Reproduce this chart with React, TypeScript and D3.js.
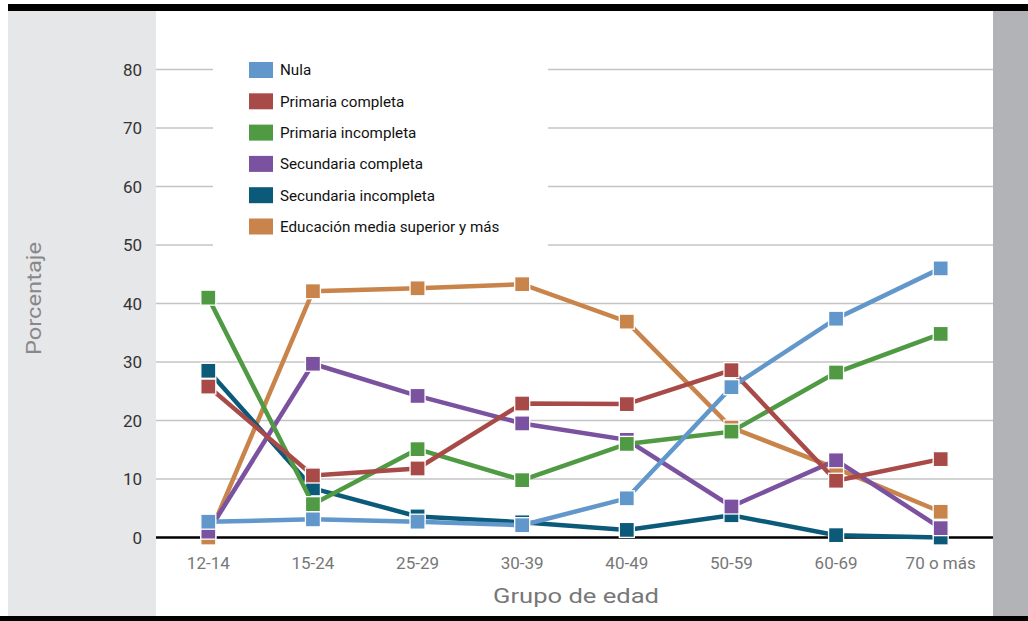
import React from "react";
import * as d3 from "d3";

const categories = ["12-14", "15-24", "25-29", "30-39", "40-49", "50-59", "60-69", "70 o más"];
const yTicks = [0, 10, 20, 30, 40, 50, 60, 70, 80];

const seriesNames = [
  "Nula",
  "Primaria completa",
  "Primaria incompleta",
  "Secundaria completa",
  "Secundaria incompleta",
  "Educación media superior y más",
];
const seriesColors = ["#6197cb", "#a84a48", "#4f9a43", "#7a52a0", "#0b5a7a", "#c8844a"];

const nula = [2.7, 3.1, 2.7, 2.1, 6.7, 25.7, 37.4, 46.0];
const primariaCompleta = [25.8, 10.6, 11.8, 22.9, 22.8, 28.6, 9.7, 13.4];
const primariaIncompleta = [41.0, 5.7, 15.1, 9.8, 16.0, 18.1, 28.2, 34.8];
const secundariaCompleta = [1.0, 29.7, 24.2, 19.5, 16.7, 5.3, 13.2, 1.6];
const secundariaIncompleta = [28.5, 8.4, 3.6, 2.6, 1.3, 3.8, 0.4, 0.0];
const educacionMedia = [0.0, 42.1, 42.6, 43.3, 36.9, 18.8, 11.8, 4.4];

const seriesValues = [nula, primariaCompleta, primariaIncompleta, secundariaCompleta, secundariaIncompleta, educacionMedia];
const drawOrder = [5, 4, 3, 2, 1, 0];

const FONT = "Roboto, 'Noto Sans', sans-serif";

export default function App() {
  const W = 1028;
  const H = 621;
  const plotL = 156;
  const plotR = 993;
  const x = d3.scaleBand<string>().domain(categories).range([plotL, plotR]);
  const cx = (c: string) => (x(c) as number) + x.bandwidth() / 2;
  const y = d3.scaleLinear().domain([0, 80]).range([537.5, 69.5]);
  const line = d3
    .line<number>()
    .x((_, i) => cx(categories[i]))
    .y((d) => y(d));
  const ms = 15;

  return (
    <svg width={W} height={H} style={{ position: "absolute", left: 0, top: 0 }} fontFamily={FONT}>
      <rect x={0} y={0} width={W} height={H} fill="#fff" />
      <rect x={8} y={11} width={plotL - 8} height={605} fill="#e6e7e9" />
      <rect x={plotR} y={11} width={W - plotR} height={605} fill="#b1b3b6" />
      <rect x={8} y={4} width={W - 8} height={7} fill="#000" />
      <rect x={0} y={616} width={W} height={5} fill="#000" />

      {yTicks.filter((t) => t > 0).map((t) => (
        <line key={t} x1={plotL} x2={plotR} y1={y(t)} y2={y(t)} stroke="#c4c4c4" strokeWidth={1.6} />
      ))}
      {yTicks.map((t) => (
        <text key={t} x={142} y={y(t)} dy="0.36em" textAnchor="end" fontSize={17} fill="#333">
          {t}
        </text>
      ))}

      <rect x={213} y={48} width={335} height={202} fill="#fff" />
      {seriesNames.map((n, i) => {
        const yy = 70 + i * 31.3;
        return (
          <g key={n}>
            <rect x={249} y={yy - 8} width={24} height={16} fill={seriesColors[i]} />
            <text x={280} y={yy} dy="0.36em" fontSize={15.2} fill="#111">
              {n}
            </text>
          </g>
        );
      })}

      {categories.map((c) => (
        <text key={c} x={cx(c)} y={569} textAnchor="middle" fontSize={17} fill="#777">
          {c}
        </text>
      ))}
      <text
        x={576}
        y={603}
        textAnchor="middle"
        fontSize={21}
        fill="#777"
        textLength={166}
        lengthAdjust="spacingAndGlyphs"
      >
        Grupo de edad
      </text>
      <text
        transform={`translate(41,298.5) rotate(-90)`}
        textAnchor="middle"
        fontSize={20}
        fill="#888"
        textLength={113}
        lengthAdjust="spacingAndGlyphs"
      >
        Porcentaje
      </text>

      <line x1={plotL} x2={plotR} y1={y(0)} y2={y(0)} stroke="#000" strokeWidth={2.5} />

      {drawOrder.map((si) => (
        <g key={si}>
          <path d={line(seriesValues[si]) || ""} fill="none" stroke={seriesColors[si]} strokeWidth={4.5} />
          {seriesValues[si].map((v, i) => (
            <rect
              key={i}
              x={cx(categories[i]) - ms / 2}
              y={y(v) - ms / 2}
              width={ms}
              height={ms}
              fill={seriesColors[si]}
              stroke="#fff"
              strokeWidth={1.3}
            />
          ))}
        </g>
      ))}
    </svg>
  );
}
